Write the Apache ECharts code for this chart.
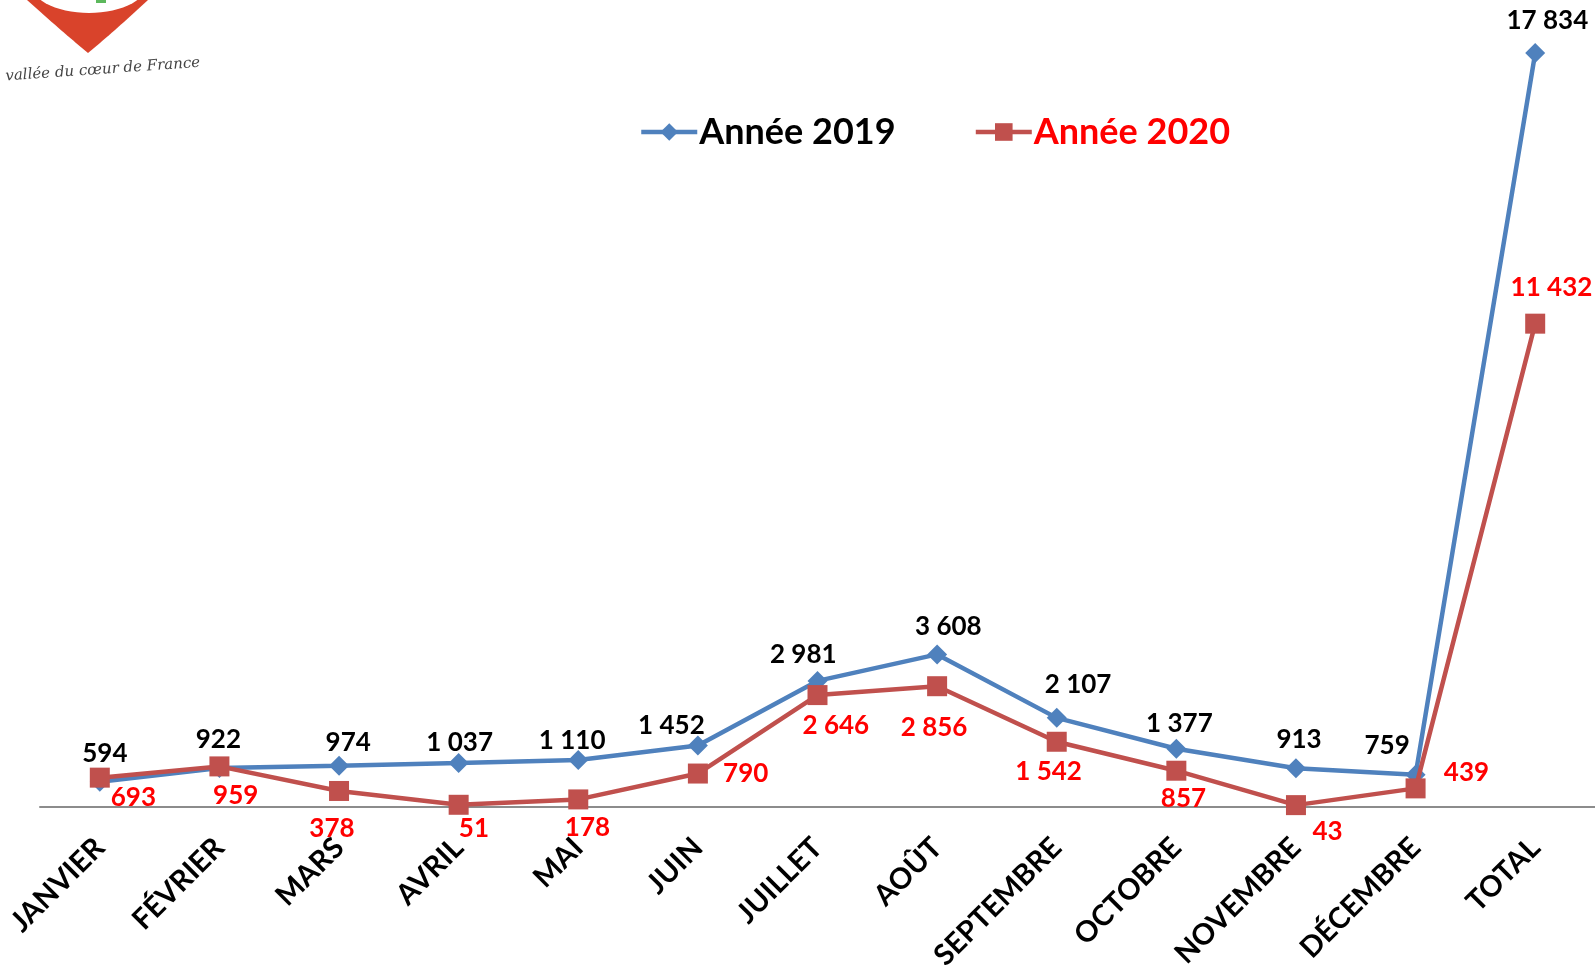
<!DOCTYPE html>
<html>
<head>
<meta charset="utf-8">
<script src="https://cdn.jsdelivr.net/npm/echarts@6/dist/echarts.min.js"></script>
<style>
html,body{margin:0;padding:0;background:#fff;}
#chart{width:1595px;height:973px;}
</style>
</head>
<body>
<div id="chart"></div>
<script>
// ---- data ----
const categories = ['JANVIER','FÉVRIER','MARS','AVRIL','MAI','JUIN','JUILLET','AOÛT','SEPTEMBRE','OCTOBRE','NOVEMBRE','DÉCEMBRE','TOTAL'];
const values2019 = [594, 922, 974, 1037, 1110, 1452, 2981, 3608, 2107, 1377, 913, 759, 17834];
const values2020 = [693, 959, 378, 51, 178, 790, 2646, 2856, 1542, 857, 43, 439, 11432];
const seriesNames = ['Année 2019', 'Année 2020'];

// ---- styling (label offsets relative to each marker) ----
const offsets2019 = [[5,-28],[-1,-28],[9,-23],[1,-20],[-6,-19],[-26,-20],[-14,-26],[11,-27],[21,-33],[3,-25],[3,-28],[-28,-29],[12,-32]];
const offsets2020 = [[33,20],[16,29],[-7,37],[15,23],[9,28],[47,0],[18,30],[-3,41],[-8,29],[7,27],[31,26],[50,-16],[16,-35]];

const fmt = v => String(v).replace(/\B(?=(\d{3})+(?!\d))/g, ' ');
const FONT = 'Lato';

function buildData(vals, offs, color) {
  return vals.map((v, i) => ({
    value: v,
    label: {
      show: true,
      position: 'inside',
      offset: [offs[i][0] * 1.017, offs[i][1] * 1.017],
      formatter: p => fmt(p.value),
      color: color,
      fontFamily: FONT,
      fontWeight: 'bold',
      fontSize: 26
    }
  }));
}

// logo shapes (decoration)
function quadPts(p0, p1, p2, n) {
  const pts = [];
  for (let i = 0; i <= n; i++) {
    const t = i / n, a = (1 - t) * (1 - t), b = 2 * (1 - t) * t, c = t * t;
    pts.push([a * p0[0] + b * p1[0] + c * p2[0], a * p0[1] + b * p1[1] + c * p2[1]]);
  }
  return pts;
}
const heartPts = quadPts([27, 0], [58, 28], [88, 53], 20).concat(quadPts([88, 53], [118, 28], [148, 0], 20).slice(1));
const ellPts = [];
for (let i = 0; i < 60; i++) {
  const a = i / 60 * Math.PI * 2;
  ellPts.push([89 + 58 * Math.cos(a), -16 + 29 * Math.sin(a)]);
}

const chart = echarts.init(document.getElementById('chart'));
chart.setOption({
  backgroundColor: '#ffffff',
  animation: false,
  legend: {
    left: 639,
    top: 114,
    padding: 0,
    itemWidth: 56,
    itemHeight: 22,
    itemGap: 78,
    lineStyle: { width: 4.5 },
    textStyle: { fontFamily: FONT, fontWeight: 'bold', fontSize: 36, padding: [0, 0, 0, -3] },
    data: [
      { name: seriesNames[0], textStyle: { color: '#000000' } },
      { name: seriesNames[1], textStyle: { color: '#ff0000' } }
    ]
  },
  grid: { left: 40, right: 0, top: 46, bottom: 165.3 },
  xAxis: {
    type: 'category',
    data: categories,
    boundaryGap: true,
    axisLine: { lineStyle: { color: '#8c8c8c', width: 2 } },
    axisTick: { show: false },
    axisLabel: {
      rotate: 45,
      margin: 36,
      interval: 0,
      color: '#000',
      fontFamily: FONT,
      fontWeight: 'bold',
      fontSize: 29
    }
  },
  yAxis: {
    type: 'value',
    min: 0,
    max: 18000,
    show: false,
    splitLine: { show: false }
  },
  series: [
    {
      name: seriesNames[0],
      type: 'line',
      data: buildData(values2019, offsets2019, '#000000'),
      symbol: 'diamond',
      symbolSize: 20,
      lineStyle: { color: '#4f81bd', width: 4.5 },
      itemStyle: { color: '#4f81bd' },
      z: 2
    },
    {
      name: seriesNames[1],
      type: 'line',
      data: buildData(values2020, offsets2020, '#ff0000'),
      symbol: 'rect',
      symbolSize: 20,
      lineStyle: { color: '#c0504d', width: 4.5 },
      itemStyle: { color: '#c0504d' },
      z: 3
    }
  ],
  graphic: [
    {
      type: 'polygon',
      shape: { points: heartPts },
      style: { fill: '#d9432b' }
    },
    {
      type: 'polygon',
      shape: { points: ellPts },
      style: { fill: '#ffffff' }
    },
    {
      type: 'rect',
      shape: { x: 96, y: 0, width: 10, height: 3 },
      style: { fill: '#5cb85c' }
    },
    {
      type: 'text',
      x: 6,
      y: 84,
      rotation: 0.07,
      style: {
        text: 'vallée du cœur de France',
        fill: '#444444',
        font: 'italic 15px "DejaVu Serif"',
        verticalAlign: 'bottom'
      }
    }
  ]
});
</script>
</body>
</html>
